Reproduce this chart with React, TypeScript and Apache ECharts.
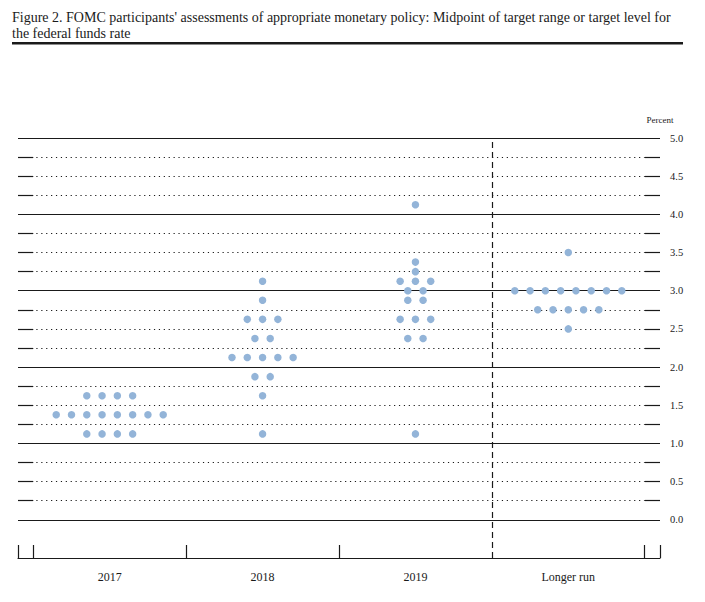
import React, { useEffect, useRef } from 'react';
import * as echarts from 'echarts';

const titleLines = [
  "Figure 2. FOMC participants' assessments of appropriate monetary policy: Midpoint of target range or target level for",
  'the federal funds rate',
];
const categories = ['2017', '2018', '2019', 'Longer run'];
// [rate, number of participants]
const dots2017 = [[1.625, 4], [1.375, 8], [1.125, 4]];
const dots2018 = [[3.125, 1], [2.875, 1], [2.625, 3], [2.375, 2], [2.125, 5], [1.875, 2], [1.625, 1], [1.125, 1]];
const dots2019 = [[4.125, 1], [3.375, 1], [3.25, 1], [3.125, 3], [3.0, 2], [2.875, 2], [2.625, 3], [2.375, 2], [1.125, 1]];
const dotsLongerRun = [[3.5, 1], [3.0, 8], [2.75, 5], [2.5, 1]];
const gridLevels = [0, 0.25, 0.5, 0.75, 1, 1.25, 1.5, 1.75, 2, 2.25, 2.5, 2.75, 3, 3.25, 3.5, 3.75, 4, 4.25, 4.5, 4.75, 5];
const xTickValues = [-0.1, 0, 1, 2, 4, 4.1];
const xLabelValues = [0.5, 1.5, 2.5, 3.5];
const dividerAt = 3;

const FONT = 'Liberation Serif';
const INK = '#1a1a1a';
const DOT = '#93b4d8';

export default function App() {
  const ref = useRef<HTMLDivElement>(null);
  useEffect(() => {
    if (!ref.current) return;
    const chart = echarts.init(ref.current, undefined, { renderer: 'svg' });
    const step = 0.1;
    const all = [dots2017, dots2018, dots2019, dotsLongerRun];
    const points: number[][] = [];
    all.forEach((rows, ci) => {
      rows.forEach(([v, n]) => {
        for (let k = 0; k < n; k++) {
          points.push([ci + 0.5 + (k - (n - 1) / 2) * step, v]);
        }
      });
    });
    const solid = { type: 'solid', color: INK, width: 1.2 };
    const dotted = { type: [1.2, 3.7], color: INK, width: 1.2 };
    const lineData: any[] = [];
    gridLevels.forEach((v) => {
      if (Number.isInteger(v)) {
        lineData.push([{ coord: [-0.1, v], lineStyle: solid }, { coord: [4.1, v] }]);
      } else {
        lineData.push([{ coord: [-0.1, v], lineStyle: solid }, { coord: [0, v] }]);
        lineData.push([{ coord: [0.02, v], lineStyle: dotted }, { coord: [4, v] }]);
        lineData.push([{ coord: [4, v], lineStyle: solid }, { coord: [4.1, v] }]);
      }
    });
    lineData.push({ xAxis: dividerAt, lineStyle: { type: [6, 4], color: INK, width: 1.2 } });

    chart.setOption({
      animation: false,
      grid: { left: 18, right: 45, top: 138, bottom: 44, containLabel: false },
      xAxis: {
        type: 'value',
        min: -0.1,
        max: 4.1,
        splitLine: { show: false },
        axisLine: { show: true, onZero: false, lineStyle: { color: INK, width: 1.2 } },
        axisTick: { show: true, inside: true, length: 13, customValues: xTickValues, lineStyle: { color: INK, width: 1.2 } },
        axisLabel: {
          show: true,
          customValues: xLabelValues,
          formatter: (v: number) => categories[Math.floor(v)] ?? '',
          fontFamily: FONT,
          fontSize: 12,
          color: INK,
          margin: 13,
        },
      },
      yAxis: {
        type: 'value',
        position: 'right',
        min: -0.5,
        max: 5,
        interval: 0.5,
        name: 'Percent',
        nameLocation: 'end',
        nameGap: 14,
        nameTextStyle: { fontFamily: FONT, fontSize: 9, color: INK, align: 'center' },
        splitLine: { show: false },
        axisLine: { show: false, onZero: false },
        axisTick: { show: false },
        axisLabel: {
          formatter: (v: number) => (v >= 0 ? v.toFixed(1) : ''),
          fontFamily: FONT,
          fontSize: 10.5,
          color: INK,
          margin: 10,
        },
      },
      graphic: [
        {
          type: 'text',
          left: 12,
          top: 10,
          style: { text: titleLines[0], fontFamily: FONT, fontSize: 14, fill: INK },
        },
        {
          type: 'text',
          left: 12,
          top: 26.5,
          style: { text: titleLines[1], fontFamily: FONT, fontSize: 14, fill: INK },
        },
        {
          type: 'rect',
          shape: { x: 12, y: 42, width: 671, height: 2.5 },
          style: { fill: INK },
        },
      ],
      series: [
        {
          type: 'scatter',
          data: [],
          z: 1,
          silent: true,
          markLine: { silent: true, symbol: 'none', label: { show: false }, data: lineData },
        },
        {
          type: 'scatter',
          data: points,
          z: 5,
          symbol: 'circle',
          symbolSize: 7.5,
          itemStyle: { color: DOT, opacity: 1 },
        },
      ],
    });
    return () => chart.dispose();
  }, []);
  return <div ref={ref} style={{ position: 'fixed', left: 0, top: 0, width: 705, height: 602, background: '#fff' }} />;
}
